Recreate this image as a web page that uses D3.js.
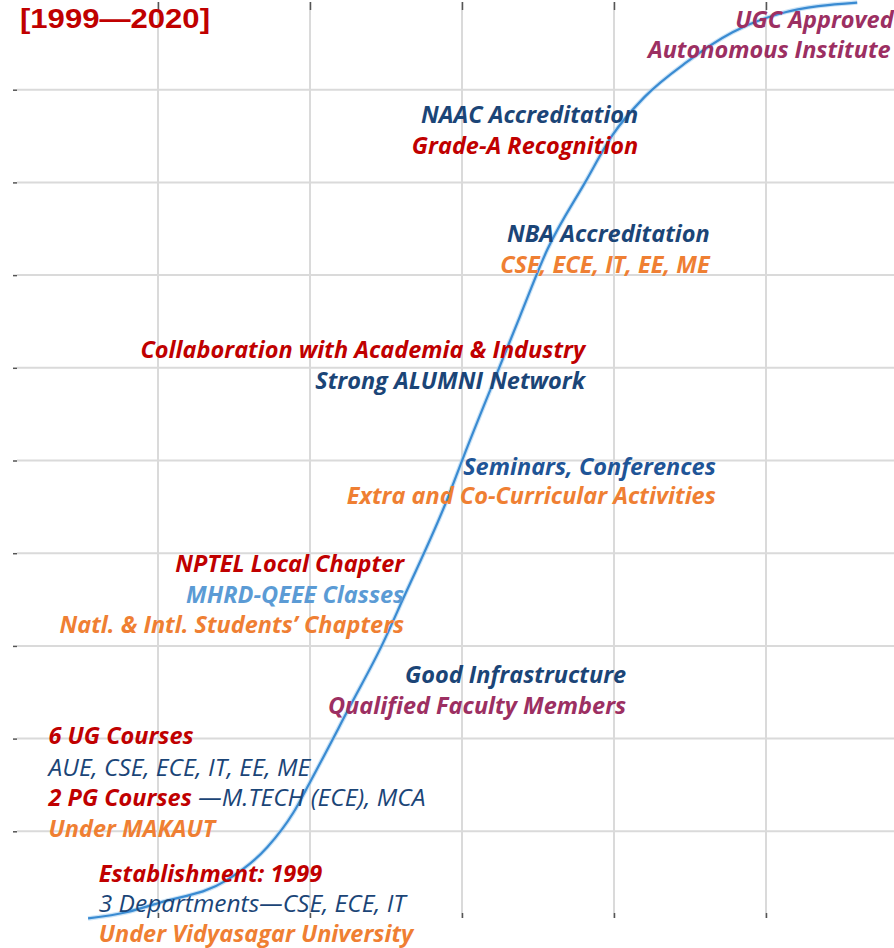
<!DOCTYPE html>
<html>
<head>
<meta charset="utf-8">
<script src="https://cdn.jsdelivr.net/npm/d3@7"></script>
<style>
  html, body { margin: 0; padding: 0; background: #ffffff; }
  #chart { width: 894px; height: 948px; }
</style>
</head>
<body>
<div id="chart"></div>
<script>
// growth curve (x: grid columns, y: grid rows)
const curveX = [0.54, 0.80, 1.01, 1.45, 1.72, 1.89, 2.00, 2.26, 2.48, 2.61, 2.90, 3.01, 3.23, 3.38, 3.56, 3.81, 3.99, 4.20, 4.48, 4.78, 5.09, 5.60];
const curveY = [0.06, 0.13, 0.23, 0.47, 0.83, 1.20, 1.53, 2.34, 3.03, 3.50, 4.57, 5.04, 5.94, 6.55, 7.27, 8.00, 8.51, 8.92, 9.30, 9.62, 9.82, 9.94];

const xTicks = [1, 2, 3, 4, 5];
const yTicks = [1, 2, 3, 4, 5, 6, 7, 8, 9];

const title = "[1999\u20142020]";

// milestone texts, anchored in the same grid units as the curve
const labelText = [
  "UGC Approved", "Autonomous Institute",
  "NAAC Accreditation", "Grade-A Recognition",
  "NBA Accreditation", "CSE, ECE, IT, EE, ME",
  "Collaboration with Academia & Industry", "Strong ALUMNI Network",
  "Seminars, Conferences", "Extra and Co-Curricular Activities",
  "NPTEL Local Chapter", "MHRD-QEEE Classes", "Natl. & Intl. Students\u2019 Chapters",
  "Good Infrastructure", "Qualified Faculty Members",
  "6 UG Courses", "AUE, CSE, ECE, IT, EE, ME", "2 PG Courses", "Under MAKAUT",
  "Establishment: 1999", "3 Departments\u2014CSE, ECE, IT", "Under Vidyasagar University"
];
const labelX = [
  5.84, 5.82,
  4.16, 4.16,
  4.63, 4.63,
  3.81, 3.81,
  4.67, 4.67,
  2.62, 2.62, 2.62,
  4.08, 4.08,
  0.28, 0.28, 0.28, 0.28,
  0.61, 0.61, 0.61
];
const labelY = [
  9.67, 9.34,
  8.64, 8.31,
  7.36, 7.02,
  6.11, 5.77,
  4.84, 4.53,
  3.80, 3.46, 3.14,
  2.60, 2.27,
  1.94, 1.60, 1.27, 0.94,
  0.45, 0.13, -0.19
];
const labelRole = [
  "recog", "recog",
  "body", "head",
  "body", "affil",
  "head", "body",
  "event", "affil",
  "head", "qeee", "affil",
  "body", "recog",
  "head", "plain", "head", "affil",
  "head", "plain", "affil"
];
const pgSuffix = " \u2014M.TECH (ECE), MCA";

const roleColor = {
  head: "#c00000",
  body: "#1b4577",
  plain: "#1b4577",
  event: "#1f5597",
  affil: "#ef7f33",
  recog: "#9c2f62",
  qeee: "#5b9bd5"
};

const W = 894, H = 948;
const svg = d3.select("#chart").append("svg")
  .attr("width", W)
  .attr("height", H)
  .style("font-family", "'Open Sans', Lato, sans-serif");

svg.append("rect").attr("width", W).attr("height", H).attr("fill", "#ffffff");

const x = d3.scaleLinear().domain([0, 6]).range([6, 918]);
const y = d3.scaleLinear().domain([0, 10]).range([924, -3]);

const plotLeft = 17, plotTop = 2, plotBottom = 918;

// grid
svg.append("g")
  .selectAll("line")
  .data(yTicks)
  .join("line")
  .attr("x1", plotLeft)
  .attr("x2", W)
  .attr("y1", d => y(d))
  .attr("y2", d => y(d))
  .attr("stroke", "#dadada")
  .attr("stroke-width", 2);

svg.append("g")
  .selectAll("line")
  .data(xTicks)
  .join("line")
  .attr("x1", d => x(d))
  .attr("x2", d => x(d))
  .attr("y1", plotTop)
  .attr("y2", plotBottom)
  .attr("stroke", "#dadada")
  .attr("stroke-width", 2);

// axes: tick marks only
const tidy = g => {
  g.select(".domain").remove();
  g.selectAll(".tick line").attr("stroke", "#555").attr("stroke-width", 1.5);
  g.selectAll(".tick text").remove();
};

svg.append("g")
  .attr("transform", `translate(${plotLeft},0)`)
  .call(d3.axisLeft(y).tickValues(yTicks).tickSize(4))
  .call(tidy);

svg.append("g")
  .attr("transform", `translate(0,${plotTop})`)
  .call(d3.axisTop(x).tickValues(xTicks).tickSize(-8))
  .call(tidy);

svg.append("g")
  .attr("transform", `translate(0,${plotBottom})`)
  .call(d3.axisBottom(x).tickValues(xTicks).tickSize(-5))
  .call(tidy);

// curve
const pts = curveX.map((v, i) => [v, curveY[i]]);
const line = d3.line()
  .x(d => x(d[0]))
  .y(d => y(d[1]))
  .curve(d3.curveMonotoneX);

svg.append("path")
  .datum(pts)
  .attr("d", line)
  .attr("fill", "none")
  .attr("stroke", "#a9d0f0")
  .attr("stroke-width", 4.5)
  .attr("stroke-opacity", 0.6);

svg.append("path")
  .datum(pts)
  .attr("d", line)
  .attr("fill", "none")
  .attr("stroke", "#3a8bd2")
  .attr("stroke-width", 2.2);

// title
svg.append("text")
  .attr("x", 20)
  .attr("y", 28)
  .attr("textLength", 190)
  .attr("lengthAdjust", "spacingAndGlyphs")
  .style("font-family", "Arial, 'Liberation Sans', sans-serif")
  .style("font-weight", "bold")
  .style("font-size", "27px")
  .attr("fill", "#c00000")
  .text(title);

// milestone labels
const labels = svg.append("g")
  .style("font-style", "italic");

labelText.forEach((t, i) => {
  const role = labelRole[i];
  const anchorEnd = labelX[i] > 1;
  const plain = role === "plain";
  const txt = labels.append("text")
    .attr("x", x(labelX[i]))
    .attr("y", y(labelY[i]))
    .attr("text-anchor", anchorEnd ? "end" : "start")
    .attr("fill", roleColor[role])
    .style("font-size", plain ? "24.5px" : "23.5px")
    .style("font-weight", plain ? "normal" : "bold");
  txt.append("tspan").text(t);
  if (t === "2 PG Courses") {
    txt.append("tspan")
      .attr("fill", roleColor.plain)
      .style("font-size", "24.5px")
      .style("font-weight", "normal")
      .text(pgSuffix);
  }
});
</script>
</body>
</html>
